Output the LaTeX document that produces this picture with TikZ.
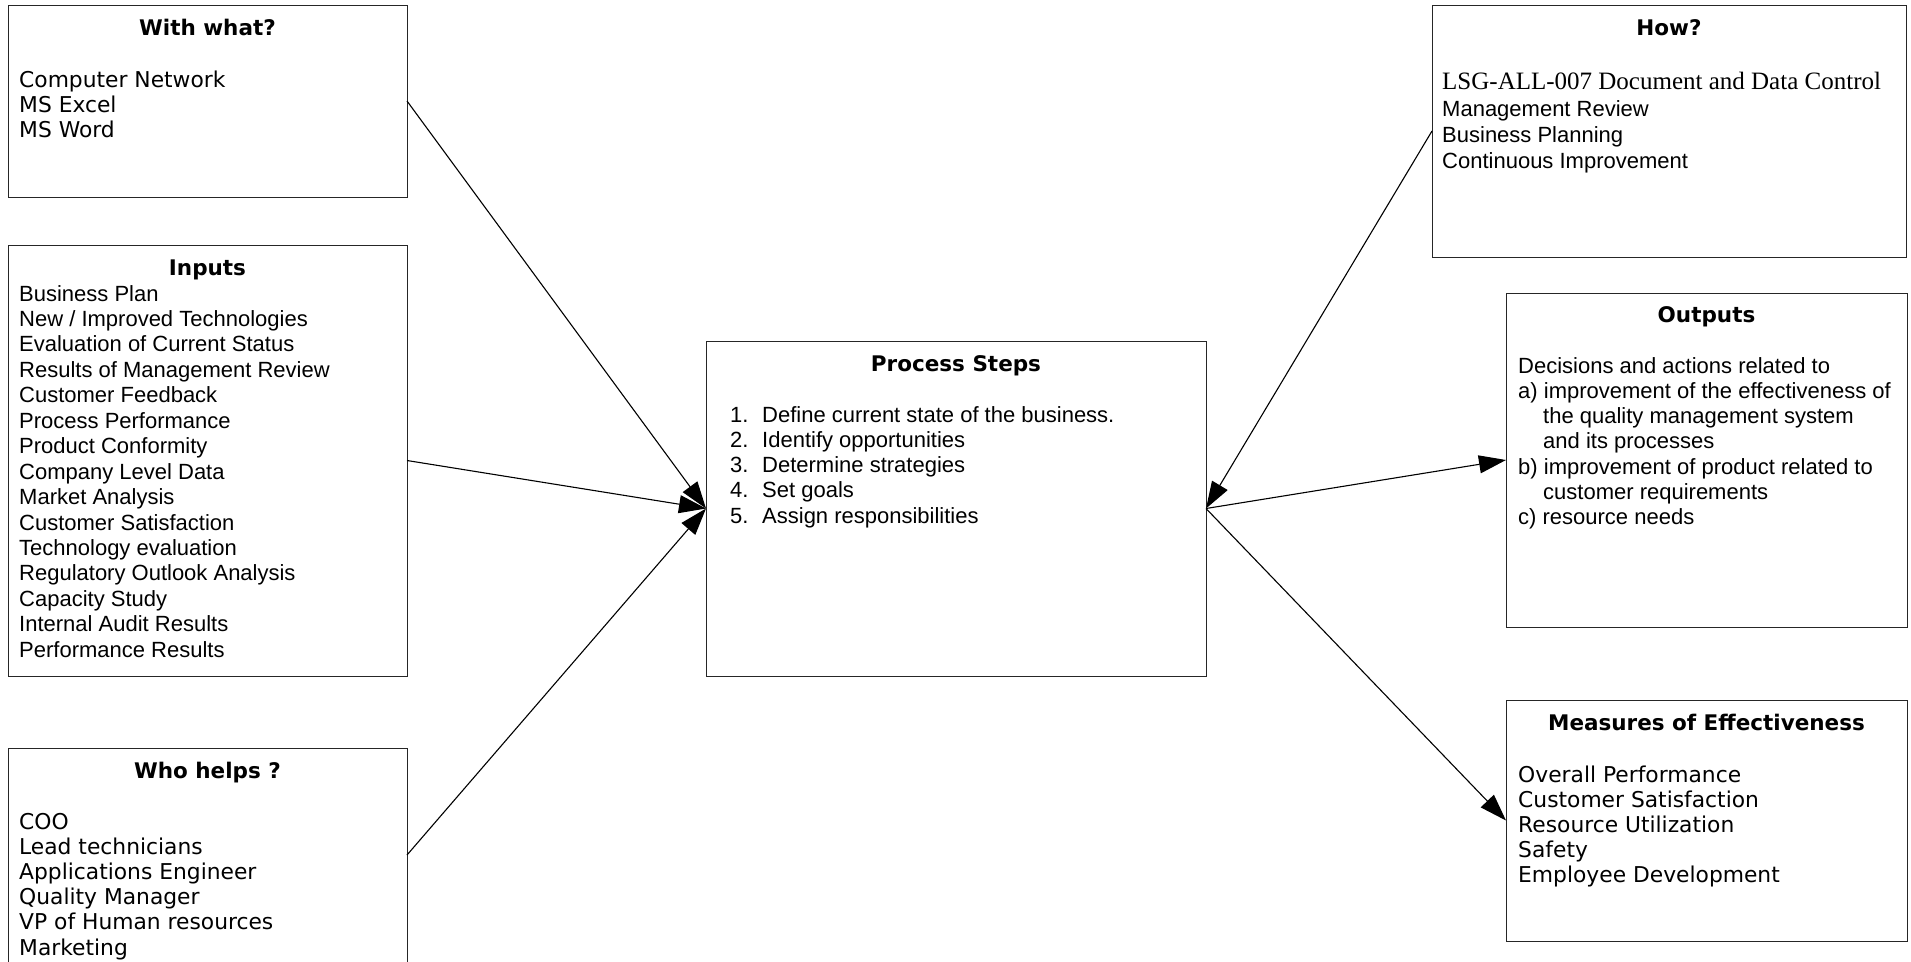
\documentclass[tikz,border=0pt]{standalone}
\usepackage{fontspec}
\usetikzlibrary{arrows.meta}
\newfontfamily\verd{DejaVu Sans}
\newfontfamily\arl{Liberation Sans}
\newfontfamily\tnr{Liberation Serif}

\tikzset{
  box/.style={draw=black!85, line width=1pt, rectangle, inner sep=0pt, outer sep=0pt},
  head/.style={inner sep=0pt, anchor=base, font=\verd\bfseries\fontsize{21.5pt}{25pt}\selectfont},
  vtxt/.style={inner sep=0pt, anchor=base west, font=\verd\fontsize{21.8pt}{25pt}\selectfont},
  atxt/.style={inner sep=0pt, anchor=base west, font=\arl\fontsize{22pt}{25.3pt}\selectfont},
  ttxt/.style={inner sep=0pt, anchor=base west, font=\tnr\fontsize{25pt}{26pt}\selectfont},
  arr/.style={draw=black, line width=1.1pt, -{Triangle[length=27pt,width=18pt]}}
}

\begin{document}
\begin{tikzpicture}[x=1pt,y=-1pt]
\useasboundingbox (0,0) rectangle (1911,961);

% boxes
\node[box, minimum width=399pt, minimum height=192pt] (with) at (207.5,101) {};
\node[box, minimum width=399pt, minimum height=431pt] (inp) at (207.5,460.5) {};
\node[box, minimum width=399pt, minimum height=214pt] (who) at (207.5,855) {};
\node[box, minimum width=500pt, minimum height=335pt] (proc) at (956,508.5) {};
\node[box, minimum width=474pt, minimum height=252pt] (how) at (1669,131) {};
\node[box, minimum width=401pt, minimum height=334pt] (out) at (1706.5,460) {};
\node[box, minimum width=401pt, minimum height=241pt] (meas) at (1706.5,820.5) {};

% headings
\node[head] (with-h) at (207.5,35) {With what?};
\node[head] (inp-h) at (207.5,275) {Inputs};
\node[head] (who-h) at (207.5,778) {Who helps ?};
\node[head] (proc-h) at (956,371) {Process Steps};
\node[head] (how-h) at (1669,35) {How?};
\node[head] (out-h) at (1706.5,322) {Outputs};
\node[head] (meas-h) at (1706.5,730) {Measures of Effectiveness};

% With what?
\foreach \t [count=\i] in {Computer Network, MS Excel, MS Word}
  \node[vtxt] (with-\i) at (19,{87+25*(\i-1)}) {\t};

% Inputs
\foreach \t [count=\i] in {Business Plan, New / Improved Technologies,
    Evaluation of Current Status, Results of Management Review,
    Customer Feedback, Process Performance, Product Conformity,
    Company Level Data, Market Analysis, Customer Satisfaction,
    Technology evaluation, Regulatory Outlook Analysis, Capacity Study,
    Internal Audit Results, Performance Results}
  \node[atxt] (inp-\i) at (19,{301+25.45*(\i-1)}) {\t};

% Who helps ?
\foreach \t [count=\i] in {COO, Lead technicians, Applications Engineer,
    Quality Manager, VP of Human resources, Marketing}
  \node[vtxt] (who-\i) at (19,{829+25.2*(\i-1)}) {\t};

% Process steps
\foreach \t [count=\i] in {Define current state of the business.,
    Identify opportunities, Determine strategies, Set goals,
    Assign responsibilities}
  \node[atxt] (proc-\i) at (730,{422+25.3*(\i-1)}) {\makebox[32pt][l]{\i.}\t};

% How?
\node[ttxt] (how-1) at (1442,89) {LSG-ALL-007 Document and Data Control};
\node[atxt] (how-2) at (1442,116) {Management Review};
\node[atxt] (how-3) at (1442,142) {Business Planning};
\node[atxt] (how-4) at (1442,168) {Continuous Improvement};

% Outputs
\node[atxt] (out-1) at (1518,373) {Decisions and actions related to};
\node[atxt] (out-2) at (1518,398.3) {a) improvement of the effectiveness of};
\node[atxt] (out-3) at (1543,423.6) {the quality management system};
\node[atxt] (out-4) at (1543,448.9) {and its processes};
\node[atxt] (out-5) at (1518,474.2) {b) improvement of product related to};
\node[atxt] (out-6) at (1543,499.5) {customer requirements};
\node[atxt] (out-7) at (1518,524.8) {c) resource needs};

% Measures of Effectiveness
\foreach \t [count=\i] in {Overall Performance, Customer Satisfaction,
    Resource Utilization, Safety, Employee Development}
  \node[vtxt] (meas-\i) at (1518,{782+25*(\i-1)}) {\t};

% connectors
\draw[arr] (with.east) -- (proc.west);
\draw[arr] (inp.east) -- (proc.west);
\draw[arr] (who.east) -- (proc.west);
\draw[arr] (how.west) -- (proc.east);
\draw[arr] (proc.east) -- (out.west);
\draw[arr] (proc.east) -- (meas.west);
\end{tikzpicture}
\end{document}
